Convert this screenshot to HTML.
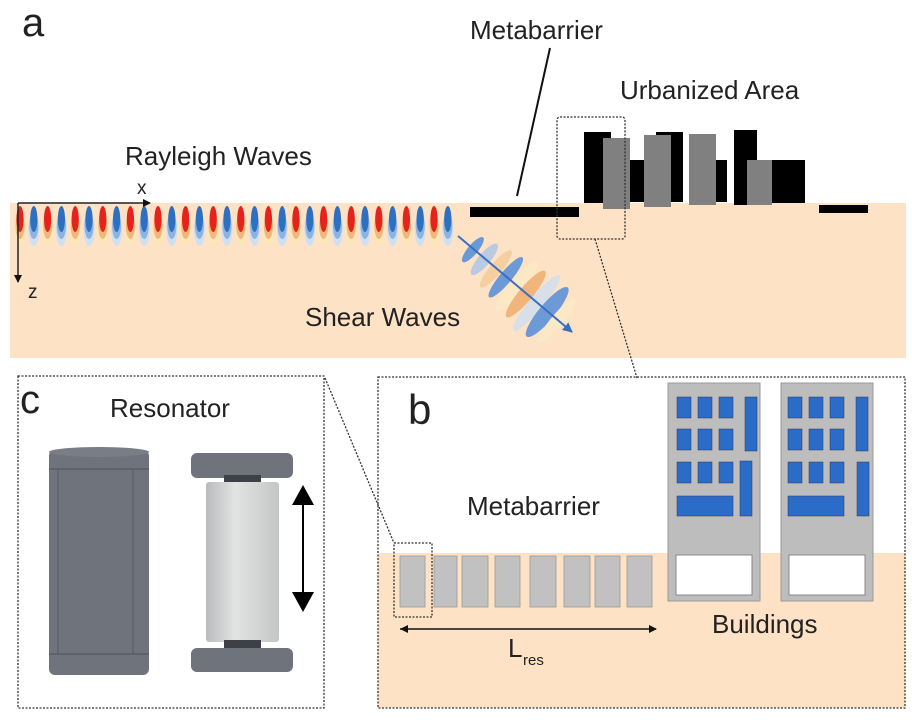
<!DOCTYPE html>
<html><head><meta charset="utf-8"><style>
body{margin:0;background:#fff;width:912px;height:720px;overflow:hidden}
svg{display:block}
text{font-family:"Liberation Sans",Arial,sans-serif;fill:#222}
</style></head><body>
<svg width="912" height="720" viewBox="0 0 912 720" xmlns="http://www.w3.org/2000/svg">
<defs>
<marker id="ah" markerWidth="8" markerHeight="8" refX="7" refY="4" orient="auto" markerUnits="userSpaceOnUse"><path d="M0,0 L8,4 L0,8 z" fill="#111"/></marker>
<marker id="ahb" markerWidth="10" markerHeight="10" refX="9" refY="5" orient="auto" markerUnits="userSpaceOnUse"><path d="M0,0 L10,5 L0,10 z" fill="#3a6fc0"/></marker>
<linearGradient id="cyl" x1="0" x2="1"><stop offset="0" stop-color="#b9bbbd"/><stop offset="0.4" stop-color="#e2e4e3"/><stop offset="1" stop-color="#c4c6c6"/></linearGradient>
<g id="R"><ellipse cx="0" cy="229" rx="5.5" ry="17" fill="#fbe7b8"/><ellipse cx="0" cy="226" rx="4.5" ry="13" fill="#f3b67c"/><ellipse cx="0" cy="219" rx="3.6" ry="13" fill="#e4231c"/></g>
<g id="B"><ellipse cx="0" cy="229" rx="5.5" ry="17" fill="#cfe0f2"/><ellipse cx="0" cy="226" rx="4.5" ry="13" fill="#8db3e0"/><ellipse cx="0" cy="219" rx="3.6" ry="13" fill="#2f6fbf"/></g>
</defs>
<rect x="10" y="203" width="896" height="155" fill="#fde2c6"/>
<text x="22" y="36" font-size="40">a</text>
<text x="470" y="39" font-size="26">Metabarrier</text>
<line x1="550" y1="48" x2="517" y2="196" stroke="#111" stroke-width="2"/>
<text x="620" y="99" font-size="26">Urbanized Area</text>
<text x="125" y="165" font-size="26">Rayleigh Waves</text>
<g>
<use href="#R" x="20"/><use href="#B" x="33.8"/><use href="#R" x="47.6"/><use href="#B" x="61.4"/>
<use href="#R" x="75.2"/><use href="#B" x="89"/><use href="#R" x="102.8"/><use href="#B" x="116.6"/>
<use href="#R" x="130.4"/><use href="#B" x="144.2"/><use href="#R" x="158"/><use href="#B" x="171.8"/>
<use href="#R" x="185.6"/><use href="#B" x="199.4"/><use href="#R" x="213.2"/><use href="#B" x="227"/>
<use href="#R" x="240.8"/><use href="#B" x="254.6"/><use href="#R" x="268.4"/><use href="#B" x="282.2"/>
<use href="#R" x="296"/><use href="#B" x="309.8"/><use href="#R" x="323.6"/><use href="#B" x="337.4"/>
<use href="#R" x="351.2"/><use href="#B" x="365"/><use href="#R" x="378.8"/><use href="#B" x="392.6"/>
<use href="#R" x="406.4"/><use href="#B" x="420.2"/><use href="#R" x="434"/><use href="#B" x="447.8"/>
</g>
<g transform="translate(515,285) rotate(40)">
<ellipse cx="-55" cy="0" rx="5" ry="16" fill="#6a9ad6"/>
<ellipse cx="-40" cy="0" rx="6" ry="20" fill="#a8c4e8" opacity="0.8"/>
<ellipse cx="-25" cy="0" rx="6" ry="24" fill="#f6cfa0"/>
<ellipse cx="-12" cy="0" rx="6" ry="26" fill="#6d9ad6"/>
<ellipse cx="2" cy="0" rx="7" ry="32" fill="#fbe9c6"/>
<ellipse cx="14" cy="0" rx="7" ry="30" fill="#f1b47a"/>
<ellipse cx="28" cy="0" rx="7" ry="36" fill="#d4dfec" opacity="0.9"/>
<ellipse cx="42" cy="0" rx="8" ry="32" fill="#6d9ad6"/>
<ellipse cx="55" cy="0" rx="6" ry="28" fill="#fbe9c6"/>
</g>
<line x1="458" y1="236" x2="572" y2="332" stroke="#3a6fc0" stroke-width="2" marker-end="url(#ahb)"/>
<text x="305" y="326" font-size="26">Shear Waves</text>
<line x1="18" y1="203" x2="150" y2="203" stroke="#222" stroke-width="1.5" marker-end="url(#ah)"/>
<line x1="18" y1="203" x2="18" y2="282" stroke="#222" stroke-width="1.5" marker-end="url(#ah)"/>
<text x="137" y="194" font-size="19">x</text>
<text x="28" y="298" font-size="19">z</text>
<rect x="470" y="207" width="109" height="10" fill="#000"/>
<rect x="584" y="132" width="27" height="71" fill="#000"/>
<rect x="630" y="160" width="15" height="42" fill="#000"/>
<rect x="656" y="132" width="27" height="70" fill="#000"/>
<rect x="603" y="138" width="27" height="71" fill="#808080"/>
<rect x="644" y="135" width="27" height="72" fill="#808080"/>
<rect x="716" y="160" width="11" height="42" fill="#000"/>
<rect x="689" y="134" width="27" height="71" fill="#808080"/>
<rect x="734" y="130" width="23" height="75" fill="#000"/>
<rect x="772" y="160" width="33" height="43" fill="#000"/>
<rect x="747" y="160" width="25" height="45" fill="#808080"/>
<rect x="819" y="205" width="49" height="8" fill="#000"/>
<rect x="557" y="117" width="68" height="122" fill="none" stroke="#333" stroke-width="1.3" stroke-dasharray="2,1.5" rx="3"/>
<line x1="595" y1="239" x2="637" y2="378" stroke="#333" stroke-width="1.3" stroke-dasharray="2,1.5"/>
<rect x="378" y="553" width="527" height="155" fill="#fde2c6"/>
<rect x="378" y="377" width="527" height="331" fill="none" stroke="#333" stroke-width="1.3" stroke-dasharray="2,1.5"/>
<text x="408" y="424" font-size="42">b</text>
<text x="467" y="515" font-size="26">Metabarrier</text>
<g fill="#c1c1c1" stroke="#999" stroke-width="0.8">
<rect x="400" y="556" width="25" height="51"/><rect x="434" y="556" width="23" height="51"/>
<rect x="462" y="556" width="26" height="51"/><rect x="495" y="556" width="25" height="51"/>
<rect x="530" y="556" width="26" height="51"/><rect x="564" y="556" width="26" height="51"/>
<rect x="595" y="556" width="25" height="51"/><rect x="627" y="556" width="25" height="51"/>
</g>
<rect x="394" y="543" width="38" height="74" fill="none" stroke="#333" stroke-width="1.3" stroke-dasharray="2,1.5"/>
<line x1="325" y1="378" x2="394" y2="543" stroke="#333" stroke-width="1.3" stroke-dasharray="2,1.5"/>
<line x1="400" y1="629" x2="656" y2="629" stroke="#111" stroke-width="1.5" marker-end="url(#ah)"/>
<path d="M408,625 L400,629 L408,633z" fill="#111"/>
<text x="508" y="657" font-size="26">L</text><text x="523" y="665" font-size="15">res</text>
<rect x="668" y="383" width="92" height="218" fill="#bdbdbd" stroke="#999"/>
<rect x="781" y="383" width="92" height="218" fill="#bdbdbd" stroke="#999"/>
<rect x="676" y="555" width="76" height="40" fill="#fff" stroke="#888"/>
<rect x="789" y="555" width="76" height="40" fill="#fff" stroke="#888"/>
<g fill="#2a6cc8" stroke="#335" stroke-width="0.5">
<rect x="677" y="397" width="14" height="21"/><rect x="698" y="397" width="14" height="21"/><rect x="719" y="397" width="14" height="21"/><rect x="745" y="397" width="12" height="54"/>
<rect x="677" y="429" width="14" height="21"/><rect x="698" y="429" width="14" height="21"/><rect x="719" y="429" width="14" height="21"/>
<rect x="677" y="462" width="14" height="21"/><rect x="698" y="462" width="14" height="21"/><rect x="719" y="462" width="14" height="21"/><rect x="740" y="461" width="12" height="55"/>
<rect x="677" y="496" width="56" height="20"/>
<rect x="788" y="397" width="14" height="21"/><rect x="809" y="397" width="14" height="21"/><rect x="830" y="397" width="14" height="21"/><rect x="856" y="397" width="12" height="54"/>
<rect x="788" y="429" width="14" height="21"/><rect x="809" y="429" width="14" height="21"/><rect x="830" y="429" width="14" height="21"/>
<rect x="788" y="462" width="14" height="21"/><rect x="809" y="462" width="14" height="21"/><rect x="830" y="462" width="14" height="21"/><rect x="857" y="462" width="12" height="54"/>
<rect x="788" y="496" width="56" height="20"/>
</g>
<text x="712" y="633" font-size="26">Buildings</text>
<rect x="18" y="376" width="306" height="332" fill="none" stroke="#333" stroke-width="1.3" stroke-dasharray="2,1.5"/>
<text x="20" y="413" font-size="40">c</text>
<text x="110" y="417" font-size="26">Resonator</text>
<rect x="49" y="450" width="100" height="225" rx="6" fill="#6e737c"/>
<ellipse cx="99" cy="452" rx="50" ry="5" fill="#787d86"/>
<line x1="49" y1="469" x2="149" y2="469" stroke="#4f535a"/>
<line x1="49" y1="654" x2="149" y2="654" stroke="#4f535a"/>
<line x1="58" y1="469" x2="58" y2="654" stroke="#555a62"/>
<line x1="133" y1="469" x2="133" y2="654" stroke="#555a62"/>
<rect x="191" y="453" width="102" height="25" rx="6" fill="#6e737c"/>
<rect x="224" y="475" width="37" height="10" fill="#3d4047"/>
<rect x="206" y="482" width="73" height="160" rx="3" fill="url(#cyl)"/>
<rect x="224" y="640" width="37" height="10" fill="#3d4047"/>
<rect x="191" y="648" width="102" height="24" rx="6" fill="#6e737c"/>
<line x1="303" y1="490" x2="303" y2="606" stroke="#000" stroke-width="2"/>
<path d="M292,505 L303,485 L314,505z M292,592 L303,612 L314,592z" fill="#000"/>
</svg>
</body></html>
